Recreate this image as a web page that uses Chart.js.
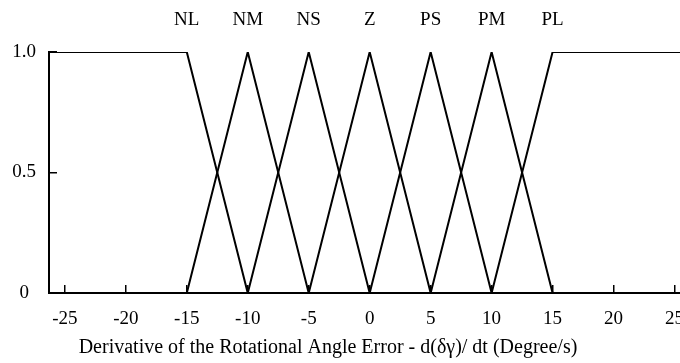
<!DOCTYPE html>
<html>
<head>
<meta charset="utf-8">
<script src="https://cdn.jsdelivr.net/npm/chart.js@4/dist/chart.umd.min.js"></script>
<style>
  html, body { margin: 0; padding: 0; background: #fff; }
  canvas { display: block; }
</style>
</head>
<body>
<canvas id="chart" width="680" height="363"></canvas>
<script>
// fuzzy sets for d(δγ)/dt
const setNames = ["NL", "NM", "NS", "Z", "PS", "PM", "PL"];
const setPeaks = [-15, -10, -5, 0, 5, 10, 15];

// breakpoints of each membership function (x in Degree/s, y = membership)
const setX = [
  [-30, -15, -10],
  [-15, -10, -5],
  [-10, -5, 0],
  [-5, 0, 5],
  [0, 5, 10],
  [5, 10, 15],
  [10, 15, 30]
];
const setY = [
  [1, 1, 0],
  [0, 1, 0],
  [0, 1, 0],
  [0, 1, 0],
  [0, 1, 0],
  [0, 1, 0],
  [0, 1, 1]
];

const xTicks = [-25, -20, -15, -10, -5, 0, 5, 10, 15, 20, 25];
const yTicks = [0, 0.5, 1.0];
const yTickLabels = ["0", "0.5", "1.0"];

const xTitle = "Derivative of the Rotational Angle Error - d(\u03b4\u03b3)/ dt (Degree/s)";

const serif = '"Liberation Serif", "Times New Roman", serif';
const tickFont = { family: serif, size: 19 };

const datasets = setNames.map((name, i) => ({
  label: name,
  data: setX[i].map((x, j) => ({ x: x, y: setY[i][j] })),
  borderColor: "#000",
  borderWidth: 2,
  pointRadius: 0,
  tension: 0,
  fill: false
}));

// caption under the x axis
const captionPlugin = {
  id: "caption",
  afterDraw(chart) {
    const ctx = chart.ctx;
    ctx.save();
    ctx.font = "20px " + serif;
    ctx.fillStyle = "#000";
    ctx.textAlign = "center";
    ctx.textBaseline = "alphabetic";
    ctx.fillText(xTitle, 328, 353);
    ctx.restore();
  }
};

new Chart(document.getElementById("chart"), {
  type: "line",
  data: { datasets: datasets },
  options: {
    responsive: false,
    animation: false,
    devicePixelRatio: 1,
    layout: { padding: 0 },
    plugins: {
      legend: { display: false },
      tooltip: { enabled: false }
    },
    scales: {
      x: {
        type: "linear",
        position: "bottom",
        min: -26.3,
        max: 25.45,
        afterBuildTicks: (scale) => { scale.ticks = xTicks.map(v => ({ value: v })); },
        afterFit: (scale) => {
          scale.height = 70;
          scale.paddingLeft = 0;
          scale.paddingRight = 0;
        },
        grid: {
          drawOnChartArea: false,
          drawTicks: true,
          tickLength: -8,
          color: "#000",
          lineWidth: 1.5
        },
        border: { display: true, color: "#000", width: 2 },
        ticks: {
          color: "#000",
          font: tickFont,
          padding: 23,
          maxRotation: 0,
          autoSkip: false,
          includeBounds: false
        }
      },
      top: {
        type: "linear",
        position: "top",
        min: -26.3,
        max: 25.45,
        afterBuildTicks: (scale) => { scale.ticks = setPeaks.map(v => ({ value: v })); },
        afterFit: (scale) => {
          scale.height = 52;
          scale.paddingLeft = 0;
          scale.paddingRight = 0;
        },
        grid: { display: false },
        border: { display: false },
        ticks: {
          color: "#000",
          font: tickFont,
          padding: 13,
          maxRotation: 0,
          autoSkip: false,
          callback: (v) => setNames[setPeaks.indexOf(v)]
        }
      },
      y: {
        type: "linear",
        position: "left",
        min: 0,
        max: 1,
        afterBuildTicks: (scale) => { scale.ticks = yTicks.map(v => ({ value: v })); },
        afterFit: (scale) => { scale.width = 49; },
        grid: {
          drawOnChartArea: false,
          drawTicks: true,
          tickLength: -8,
          color: "#000",
          lineWidth: 1.5
        },
        border: { display: true, color: "#000", width: 2 },
        ticks: {
          color: "#000",
          font: tickFont,
          padding: 21,
          crossAlign: "center",
          callback: (v) => yTickLabels[yTicks.indexOf(v)]
        }
      }
    }
  },
  plugins: [captionPlugin]
});
</script>
</body>
</html>
